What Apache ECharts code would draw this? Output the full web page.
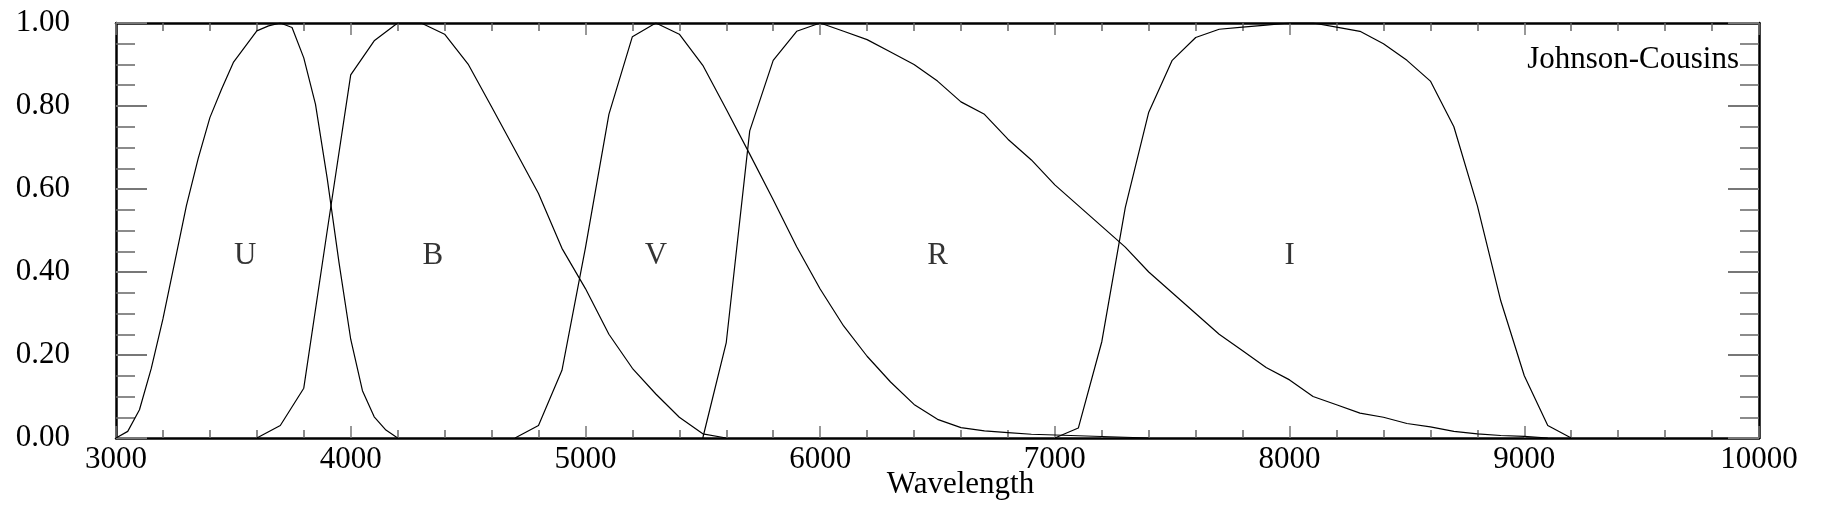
<!DOCTYPE html>
<html>
<head>
<meta charset="utf-8">
<script src="https://cdn.jsdelivr.net/npm/echarts@6/dist/echarts.min.js"></script>
<style>
  html, body { margin: 0; padding: 0; background: #fff; }
  #chart { width: 1832px; height: 508px; }
</style>
</head>
<body>
<div id="chart"></div>
<script>
// filter transmission curves
const uWave = [3000, 3050, 3100, 3150, 3200, 3250, 3300, 3350, 3400, 3450, 3500, 3550, 3600,
               3650, 3700, 3750, 3800, 3850, 3900, 3950, 4000, 4050, 4100, 4150, 4200];
const uResp = [0.000, 0.016, 0.068, 0.167, 0.287, 0.423, 0.560, 0.673, 0.772, 0.841, 0.905, 0.943, 0.981,
               0.993, 1.000, 0.989, 0.916, 0.804, 0.625, 0.423, 0.238, 0.114, 0.051, 0.019, 0.000];

const bWave = [3600, 3700, 3800, 3900, 4000, 4100, 4200, 4300, 4400, 4500, 4600,
               4700, 4800, 4900, 5000, 5100, 5200, 5300, 5400, 5500, 5600];
const bResp = [0.000, 0.030, 0.120, 0.500, 0.875, 0.957, 1.000, 1.000, 0.973, 0.901, 0.798,
               0.694, 0.589, 0.457, 0.360, 0.250, 0.168, 0.106, 0.050, 0.010, 0.000];

const vWave = [4700, 4800, 4900, 5000, 5100, 5200, 5300, 5400, 5500, 5600, 5700, 5800,
               5900, 6000, 6100, 6200, 6300, 6400, 6500, 6600, 6700, 6800, 6900, 7400];
const vResp = [0.000, 0.030, 0.163, 0.458, 0.780, 0.967, 1.000, 0.973, 0.898, 0.792, 0.684, 0.574,
               0.461, 0.359, 0.270, 0.197, 0.135, 0.081, 0.045, 0.025, 0.017, 0.013, 0.009, 0.000];

const rWave = [5500, 5600, 5700, 5800, 5900, 6000, 6100, 6200, 6300, 6400, 6500, 6600, 6700,
               6800, 6900, 7000, 7100, 7200, 7300, 7400, 7500, 7600, 7700, 7800, 7900,
               8000, 8100, 8200, 8300, 8400, 8500, 8600, 8700, 8800, 8900, 9000, 9100];
const rResp = [0.000, 0.230, 0.740, 0.910, 0.980, 1.000, 0.980, 0.960, 0.930, 0.900, 0.860, 0.810, 0.780,
               0.720, 0.670, 0.610, 0.560, 0.510, 0.460, 0.400, 0.350, 0.300, 0.250, 0.210, 0.170,
               0.140, 0.100, 0.080, 0.060, 0.050, 0.035, 0.027, 0.016, 0.010, 0.006, 0.004, 0.000];

const iWave = [7000, 7100, 7200, 7300, 7400, 7500, 7600, 7700, 7800, 7900, 8000, 8100,
               8200, 8300, 8400, 8500, 8600, 8700, 8800, 8900, 9000, 9100, 9200];
const iResp = [0.000, 0.024, 0.232, 0.555, 0.785, 0.910, 0.965, 0.985, 0.990, 0.995, 1.000, 1.000,
               0.990, 0.980, 0.950, 0.910, 0.860, 0.750, 0.560, 0.330, 0.150, 0.030, 0.000];

// band letters placed inside each curve
const bandNames = ['U', 'B', 'V', 'R', 'I'];
const bandX = [3550, 4350, 5300, 6500, 8000];
const bandY = [0.44, 0.44, 0.44, 0.44, 0.44];

const xTicks = { min: 3000, max: 10000, step: 1000 };
const yTicks = { min: 0, max: 1, step: 0.2 };

const serif = '"Liberation Serif", "DejaVu Serif", serif';

function pairs(xs, ys) {
    return xs.map((x, i) => [x, ys[i]]);
}

var myChart = echarts.init(document.getElementById('chart'));

const curves = [
    ['U', uWave, uResp],
    ['B', bWave, bResp],
    ['V', vWave, vResp],
    ['R', rWave, rResp],
    ['I', iWave, iResp]
];

const lineSeries = curves.map(c => ({
    name: c[0],
    type: 'line',
    data: pairs(c[1], c[2]),
    showSymbol: false,
    symbol: 'none',
    smooth: false,
    silent: true,
    lineStyle: { color: '#000', width: 1.2 },
    z: 3
}));

const xCommon = {
    type: 'value',
    min: xTicks.min,
    max: xTicks.max,
    interval: xTicks.step,
    splitLine: { show: false },
    axisLine: { show: true, onZero: false, lineStyle: { color: '#000', width: 2.5 } },
    axisTick: { show: true, inside: true, length: 12, lineStyle: { color: '#777', width: 1.5 } },
    minorTick: { show: true, splitNumber: 5, length: 8, lineStyle: { color: '#666', width: 1.5 } }
};

const yCommon = {
    type: 'value',
    min: yTicks.min,
    max: yTicks.max,
    interval: yTicks.step,
    splitLine: { show: false },
    axisLine: { show: true, onZero: false, lineStyle: { color: '#000', width: 2.5 } },
    axisTick: { show: true, inside: true, length: 31, lineStyle: { color: '#777', width: 2 } },
    minorTick: { show: true, splitNumber: 4, length: 19, lineStyle: { color: '#666', width: 1.5 } }
};

var option = {
    animation: false,
    backgroundColor: '#fff',
    title: {
        text: 'Johnson-Cousins',
        right: 88,
        top: 39,
        textStyle: { fontFamily: serif, fontSize: 31, fontWeight: 'normal', color: '#000' }
    },
    grid: { left: 116, right: 73, top: 23, bottom: 70, outerBoundsMode: 'none', containLabel: false },
    xAxis: [
        Object.assign({}, xCommon, {
            position: 'bottom',
            name: 'Wavelength',
            nameLocation: 'middle',
            nameGap: 31,
            nameMoveOverlap: false,
            nameTextStyle: { fontFamily: serif, fontSize: 31, color: '#000', padding: [0, 0, 0, 46] },
            axisLabel: {
                fontFamily: serif, fontSize: 31, color: '#000', margin: 6,
                formatter: v => String(v)
            }
        }),
        Object.assign({}, xCommon, { position: 'top', axisLabel: { show: false } })
    ],
    yAxis: [
        Object.assign({}, yCommon, {
            position: 'left',
            axisLabel: {
                fontFamily: serif, fontSize: 31, color: '#000', margin: 46,
                padding: [0, 0, 4, 0],
                formatter: v => v.toFixed(2)
            }
        }),
        Object.assign({}, yCommon, { position: 'right', axisLabel: { show: false } })
    ],
    series: lineSeries.concat([{
        type: 'scatter',
        silent: true,
        symbolSize: 0,
        data: bandNames.map((n, i) => ({ name: n, value: [bandX[i], bandY[i]] })),
        label: {
            show: true,
            position: 'inside',
            formatter: p => p.name,
            fontFamily: serif,
            fontSize: 31,
            color: '#000'
        },
        z: 4
    }])
};

myChart.setOption(option);
</script>
</body>
</html>
